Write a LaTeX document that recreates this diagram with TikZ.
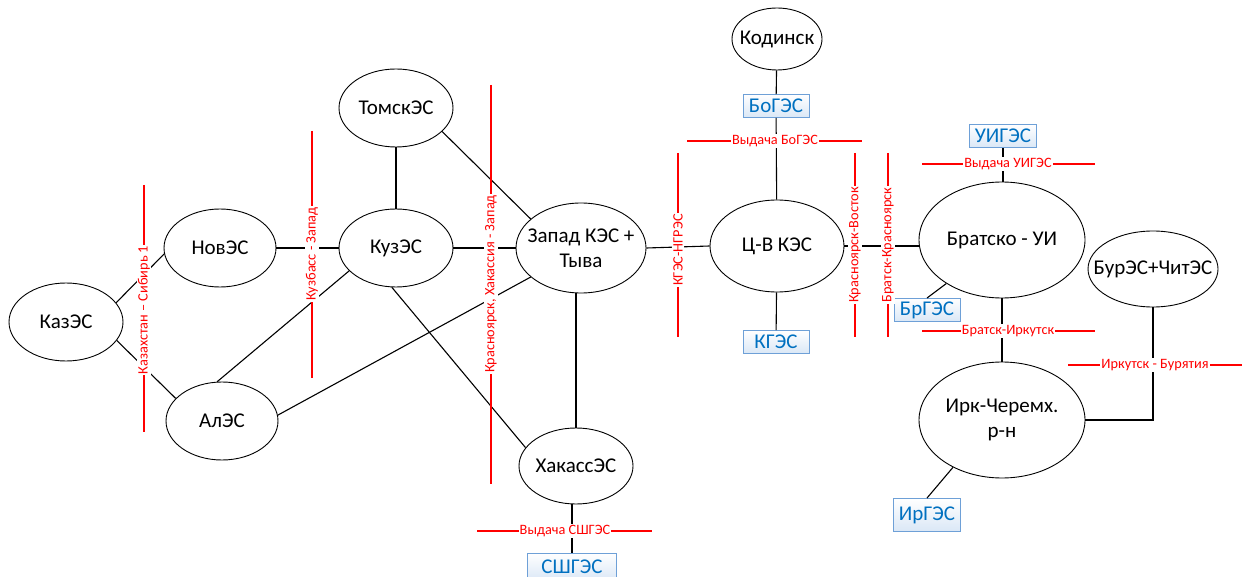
\documentclass[tikz,border=0pt]{standalone}
\usepackage{fontspec}
\setmainfont{Carlito}
\usetikzlibrary{shapes.geometric}
\definecolor{textblue}{RGB}{0,112,192}
\definecolor{boxblue}{RGB}{110,160,215}
\definecolor{boxfill}{RGB}{218,231,246}
\definecolor{cutred}{RGB}{255,0,0}
\begin{document}
\begin{tikzpicture}[x=1pt,y=-1pt,
  ell/.style={ellipse, draw, line width=0.9pt, inner xsep=-40pt, inner ysep=-20pt, align=center,
    font=\fontsize{21}{25}\selectfont},
  gbox/.style={rectangle, draw=boxblue, line width=0.9pt, top color=white, bottom color=boxfill,
    text=textblue, inner sep=0pt, minimum width=66, minimum height=23,
    font=\fontsize{21}{25}\selectfont},
  link/.style={line width=1.1pt},
  cut/.style={draw=cutred, line width=1.1pt},
  cutlbl/.style={fill=white, text=cutred, inner sep=1.2pt,
    font=\fontsize{14.3}{17}\selectfont},
  vcut/.style={cutlbl, rotate=90}]
\useasboundingbox (0,0) rectangle (1247,577);

% ellipses
\node[ell, minimum width=114, minimum height=78] (kaz) at (66,322) {КазЭС};
\node[ell, minimum width=112, minimum height=78] (nov) at (220,248) {НовЭС};
\node[ell, minimum width=112, minimum height=78] (al) at (222,421) {АлЭС};
\node[ell, minimum width=114, minimum height=78] (tomsk) at (396,108) {ТомскЭС};
\node[ell, minimum width=114, minimum height=78] (kuz) at (396,248) {КузЭС};
\node[ell, minimum width=130, minimum height=90] (zapad) at (581,248) {Запад КЭС +\\Тыва};
\node[ell, minimum width=114, minimum height=76] (hak) at (576,466) {ХакассЭС};
\node[ell, minimum width=90, minimum height=62] (kod) at (777,39) {Кодинск};
\node[ell, minimum width=134, minimum height=92] (cv) at (777,246) {Ц-В КЭС};
\node[ell, minimum width=166, minimum height=116] (brat) at (1002,240) {Братско - УИ};
\node[ell, minimum width=130, minimum height=76] (bur) at (1153,269) {БурЭС+ЧитЭС};
\node[ell, minimum width=166, minimum height=116] (irk) at (1002,420) {Ирк-Черемх.\\р-н};

% station boxes
\node[gbox] (boges) at (776,106) {БоГЭС};
\node[gbox] (kges) at (776,342) {КГЭС};
\node[gbox, minimum width=67] (uiges) at (1003,136) {УИГЭС};
\node[gbox] (brges) at (927,310) {БрГЭС};
\node[gbox, minimum width=67, minimum height=33] (irges) at (927,515) {ИрГЭС};
\node[gbox, minimum width=89, minimum height=28] (ssges) at (572,567) {СШГЭС};

% links
\draw[link] (kaz.21) -- (nov.186);
\draw[link] (kaz.-20) -- (al.154);
\draw[link] (nov) -- (kuz);
\draw[link] (al.97) -- (kuz.206);
\draw[link] (al.6) -- (zapad.210);
\draw[link] (kuz) -- (tomsk);
\draw[link] (kuz.east) -- (kuz.east -| zapad.west);
\draw[link] (tomsk.-27) -- (zapad.150);
\draw[link] (kuz.264) -- (hak.160);
\draw[link] (zapad.south -| hak.north) -- (hak.north);
\draw[link] (ssges.north |- hak.south) -- (ssges.north);
\draw[link] (kod) -- (boges);
\draw[link] (boges) -- (cv);
\draw[link] (cv) -- (kges);
\draw[link] (zapad.east) -- (cv.west);
\draw[link] (cv.east) -- (cv.east -| brat.west);
\draw[link] (brat.north -| uiges.south) -- (uiges.south);
\draw[link] (brat.218) -- (brges.north);
\draw[link] (brat.south) -- (irk.north);
\draw[link] (bur.south) |- (irk.east);
\draw[link] (irk.224) -- (irges.north);

% cut lines
\draw[cut] (144,185) -- (144,432);
\node[vcut] (c1) at (144,310) {Казахстан – Сибирь 1};
\draw[cut] (312,131) -- (312,378);
\node[vcut] (c2) at (312,254) {Кузбасс - Запад};
\draw[cut] (491,85) -- (491,484);
\node[vcut] (c3) at (491,284) {Красноярск, Хакассия - Запад};
\draw[cut] (678,153) -- (678,337);
\node[vcut] (c4) at (678,250) {КГЭС-НГРЭС};
\draw[cut] (855,153) -- (855,337);
\node[vcut] (c5) at (855,245) {Красноярск-Восток};
\draw[cut] (888,153) -- (888,337);
\node[vcut] (c6) at (888,245) {Братск-Красноярск};
\draw[cut] (687,141) -- (862,141);
\node[cutlbl] (c7) at (775,141) {Выдача БоГЭС};
\draw[cut] (922,164) -- (1095,164);
\node[cutlbl] (c8) at (1008,164) {Выдача УИГЭС};
\draw[cut] (922,331) -- (1095,331);
\node[cutlbl] (c9) at (1008,331) {Братск-Иркутск};
\draw[cut] (1068,365) -- (1242,365);
\node[cutlbl] (c10) at (1155,365) {Иркутск - Бурятия};
\draw[cut] (477,531) -- (652,531);
\node[cutlbl] (c11) at (565,531) {Выдача СШГЭС};
\end{tikzpicture}
\end{document}
